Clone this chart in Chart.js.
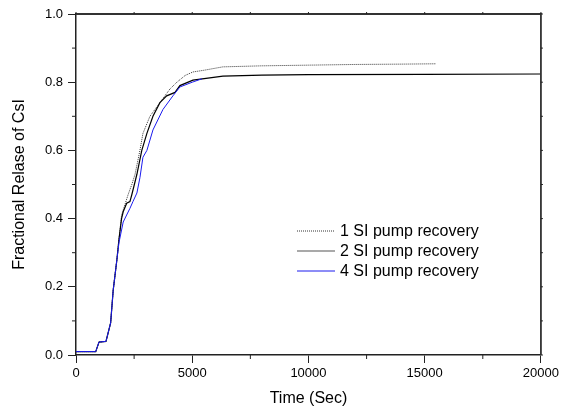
<!DOCTYPE html>
<html>
<head>
<meta charset="utf-8">
<script src="https://cdn.jsdelivr.net/npm/chart.js@4"></script>
<style>
  html, body { margin: 0; padding: 0; background: #fff; }
  #wrap { width: 562px; height: 414px; }
</style>
</head>
<body>
<div id="wrap"><canvas id="ReleaseChart" width="562" height="414"></canvas></div>
<script>
// 1 SI pump recovery
const time1 = [0, 850, 900, 990, 1290, 1490, 1600, 1760, 1850, 1960, 2100, 2240, 2400, 2540, 2750, 2880, 3180, 3610, 4040, 4340, 4700, 5030, 5500, 6320, 8000, 10000, 12000, 14000, 15500]
const release1 = [0.01, 0.01, 0.02, 0.038, 0.04, 0.094, 0.19, 0.28, 0.34, 0.41, 0.44, 0.47, 0.50, 0.53, 0.60, 0.65, 0.70, 0.74, 0.78, 0.80, 0.82, 0.83, 0.835, 0.845, 0.848, 0.85, 0.852, 0.853, 0.854]

// 2 SI pump recovery
const time2 = [0, 850, 900, 990, 1290, 1490, 1600, 1760, 1850, 1960, 2030, 2180, 2320, 2400, 2620, 2830, 3050, 3310, 3610, 3900, 4260, 4470, 5030, 6320, 8000, 10000, 15000, 20000]
const release2 = [0.01, 0.01, 0.02, 0.038, 0.04, 0.094, 0.19, 0.28, 0.34, 0.40, 0.42, 0.445, 0.45, 0.47, 0.53, 0.60, 0.65, 0.70, 0.74, 0.76, 0.77, 0.79, 0.806, 0.818, 0.821, 0.822, 0.823, 0.824]

// 4 SI pump recovery
const time4 = [0, 850, 900, 990, 1290, 1490, 1600, 1760, 1850, 2030, 2320, 2450, 2620, 2750, 2880, 3050, 3310, 3740, 4170, 4470, 5000, 5420]
const release4 = [0.01, 0.01, 0.02, 0.038, 0.04, 0.094, 0.19, 0.28, 0.33, 0.39, 0.43, 0.45, 0.475, 0.52, 0.58, 0.60, 0.66, 0.72, 0.76, 0.786, 0.80, 0.81]

const seriesLabels = ['1 SI pump recovery', '2 SI pump recovery', '4 SI pump recovery']
const xMajorTicks = [0, 5000, 10000, 15000, 20000]
const yMajorTicks = [0.0, 0.2, 0.4, 0.6, 0.8, 1.0]

const toPoints = function (xs, ys) {
	let pts = []
	xs.forEach((x, i) => {
		pts.push({ x: x, y: ys[i] })
	});
	return pts
}

const FONT = 'Arial, "Liberation Sans", sans-serif'

// minor ticks, top/right frame and the legend box inside the plot
const framePlugin = {
	id: 'frame',
	afterDraw(chart) {
		const ctx = chart.ctx
		const a = chart.chartArea
		const xs = chart.scales.x
		const ys = chart.scales.y
		ctx.save()
		ctx.strokeStyle = '#333'
		ctx.lineWidth = 1.8
		ctx.beginPath()
		ctx.moveTo(a.left, a.top)
		ctx.lineTo(a.right, a.top)
		ctx.lineTo(a.right, a.bottom)
		ctx.stroke()

		ctx.lineWidth = 1
		ctx.strokeStyle = '#222'
		ctx.beginPath()
		for (let t = 0; t <= 20000; t += 2500) {
			const px = xs.getPixelForValue(t)
			if (t % 5000 !== 0) {
				ctx.moveTo(px, a.bottom)
				ctx.lineTo(px, a.bottom + 4)
			}
			ctx.moveTo(px, a.top)
			ctx.lineTo(px, a.top - 2)
		}
		for (let i = 0; i <= 10; i++) {
			const py = ys.getPixelForValue(i / 10)
			if (i % 2 === 1) {
				ctx.moveTo(a.left, py)
				ctx.lineTo(a.left - 4, py)
			}
			ctx.moveTo(a.right, py)
			ctx.lineTo(a.right + 2, py)
		}
		ctx.stroke()

		// legend
		const lx = 297, ly = 231, step = 20
		chart.data.datasets.forEach((ds, i) => {
			const y = ly + i * step
			ctx.beginPath()
			ctx.strokeStyle = i === 1 ? '#555' : ds.borderColor
			ctx.lineWidth = ds.borderWidth
			ctx.setLineDash(ds.borderDash || [])
			ctx.moveTo(lx, y)
			ctx.lineTo(lx + 38, y)
			ctx.stroke()
			ctx.setLineDash([])
			ctx.fillStyle = '#000'
			ctx.font = '16px ' + FONT
			ctx.textBaseline = 'middle'
			ctx.textAlign = 'left'
			ctx.fillText(ds.label, lx + 43, y + 1)
		});
		ctx.restore()
	}
}

const data = {
	datasets: [{
		label: seriesLabels[0],
		data: toPoints(time1, release1),
		borderColor: '#333',
		borderWidth: 1,
		borderDash: [1, 1],
		order: 2,
	}, {
		label: seriesLabels[1],
		data: toPoints(time2, release2),
		borderColor: '#000',
		borderWidth: 1.2,
		order: 1,
	}, {
		label: seriesLabels[2],
		data: toPoints(time4, release4),
		borderColor: '#1a1aee',
		borderWidth: 1,
		order: 0,
	}]
};

const config = {
	type: 'line',
	data: data,
	plugins: [framePlugin],
	options: {
		responsive: false,
		animation: false,
		layout: { padding: { left: 0, right: 21, top: 14, bottom: 0 } },
		elements: { point: { radius: 0 }, line: { tension: 0 } },
		plugins: { legend: { display: false }, tooltip: { enabled: false } },
		scales: {
			x: {
				type: 'linear',
				min: 0,
				max: 20000,
				afterFit: scale => { scale.height = 59 },
				afterBuildTicks: scale => { scale.ticks = xMajorTicks.map(v => ({ value: v })) },
				ticks: {
					padding: 3,
					color: '#000',
					font: { family: FONT, size: 13 },
					maxRotation: 0,
					callback: v => String(v)
				},
				grid: { drawOnChartArea: false, drawTicks: true, tickLength: 8, color: '#222', lineWidth: 1 },
				border: { display: true, color: '#222', width: 1.5 },
				title: { display: true, text: 'Time (Sec)', color: '#000', font: { family: FONT, size: 16 }, padding: { top: 0, bottom: 6 } }
			},
			y: {
				min: 0,
				max: 1,
				afterFit: scale => { scale.width = 76 },
				afterBuildTicks: scale => { scale.ticks = yMajorTicks.map(v => ({ value: v })) },
				ticks: {
					padding: 5,
					color: '#000',
					font: { family: FONT, size: 13 },
					callback: v => Number(v).toFixed(1)
				},
				grid: { drawOnChartArea: false, drawTicks: true, tickLength: 8, color: '#222', lineWidth: 1 },
				border: { display: true, color: '#222', width: 1.5 },
				title: { display: true, text: 'Fractional Relase of CsI', color: '#000', font: { family: FONT, size: 16 }, padding: { top: 10, bottom: 0 } }
			}
		}
	}
};

const ReleaseChart = new Chart(
	document.getElementById('ReleaseChart'),
	config
);
</script>
</body>
</html>
